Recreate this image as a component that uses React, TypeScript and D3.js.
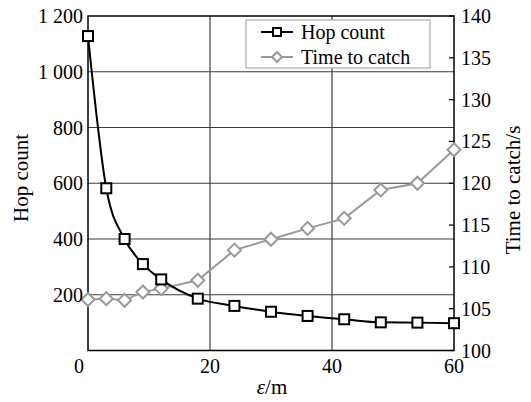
import React from "react";
import * as d3 from "d3";

const epsilon = [0, 3, 6, 9, 12, 18, 24, 30, 36, 42, 48, 54, 60];
const hopCount = [1128, 582, 400, 310, 255, 186, 160, 139, 124, 112, 101, 100, 98];
const timeToCatch = [106.1, 106.2, 106.0, 107.0, 107.4, 108.4, 112.0, 113.3, 114.6, 115.8, 119.2, 120.0, 124.0];
const xTicks = [0, 20, 40, 60];
const leftTicks = [200, 400, 600, 800, 1000, 1200];
const rightTicks = [100, 105, 110, 115, 120, 125, 130, 135, 140];
const seriesNames = ["Hop count", "Time to catch"];

const W = 531;
const H = 402;
const M = { left: 88, right: 454, top: 16, bottom: 350.5 };
const FONT = "Times New Roman";

const fmtLeft = (v: number) => (v >= 1000 ? `${Math.floor(v / 1000)} ${String(v % 1000).padStart(3, "0")}` : String(v));

export default function App() {
  const x = d3.scaleLinear().domain([0, 60]).range([M.left, M.right]);
  const yL = d3.scaleLinear().domain([0, 1200]).range([M.bottom, M.top]);
  const yR = d3.scaleLinear().domain([100, 140]).range([M.bottom, M.top]);

  const hopLine = d3
    .line<number>()
    .x((_, i) => x(epsilon[i]))
    .y((d) => yL(d))
    .curve(d3.curveMonotoneX)(hopCount) as string;
  const timeLine = d3
    .line<number>()
    .x((_, i) => x(epsilon[i]))
    .y((d) => yR(d))(timeToCatch) as string;

  const grid = "#3a3a3a";
  const gray = "#999999";
  const sq = 10;
  const dm = 6.5;
  const diamond = (cx: number, cy: number) =>
    `M${cx},${cy - dm}L${cx + dm},${cy}L${cx},${cy + dm}L${cx - dm},${cy}Z`;

  const lg = { x: 246, y: 20, w: 184, h: 48 };

  return (
    <svg
      width={W}
      height={H}
      fontFamily={FONT}
      style={{ position: "absolute", left: 0, top: 0, background: "#fff" }}
    >
      <rect x={0} y={0} width={W} height={H} fill="#fff" />
      {leftTicks
        .filter((t) => t < 1200)
        .map((t) => (
          <line key={"gh" + t} x1={M.left} x2={M.right} y1={yL(t)} y2={yL(t)} stroke={grid} strokeWidth={1.2} />
        ))}
      {xTicks
        .filter((t) => t > 0 && t < 60)
        .map((t) => (
          <line key={"gv" + t} x1={x(t)} x2={x(t)} y1={M.top} y2={M.bottom} stroke={grid} strokeWidth={1.2} />
        ))}
      {rightTicks.map((t) => (
        <line key={"rt" + t} x1={M.right - 5} x2={M.right} y1={yR(t)} y2={yR(t)} stroke="#000" strokeWidth={1.2} />
      ))}
      <rect x={M.left} y={M.top} width={M.right - M.left} height={M.bottom - M.top} fill="none" stroke="#000" strokeWidth={1.5} />

      <path d={timeLine} fill="none" stroke={gray} strokeWidth={2} />
      {timeToCatch.map((v, i) => (
        <path key={"tm" + i} d={diamond(x(epsilon[i]), yR(v))} fill="#fff" stroke={gray} strokeWidth={2} />
      ))}
      <path d={hopLine} fill="none" stroke="#000" strokeWidth={2} />
      {hopCount.map((v, i) => (
        <rect
          key={"hm" + i}
          x={x(epsilon[i]) - sq / 2}
          y={yL(v) - sq / 2}
          width={sq}
          height={sq}
          fill="#fff"
          stroke="#000"
          strokeWidth={2}
        />
      ))}

      {leftTicks.map((t) => (
        <text key={"lt" + t} x={M.left - 5} y={yL(t) + 7} textAnchor="end" fontSize={20}>
          {fmtLeft(t)}
        </text>
      ))}
      {rightTicks.map((t) => (
        <text key={"rl" + t} x={M.right + 7} y={yR(t) + 7} textAnchor="start" fontSize={20}>
          {t}
        </text>
      ))}
      {xTicks.map((t) => (
        <text key={"xt" + t} x={x(t) + (t === 0 ? -9 : 0)} y={373} textAnchor="middle" fontSize={20}>
          {t}
        </text>
      ))}

      <text x={272} y={394} textAnchor="middle" fontSize={21}>
        <tspan fontStyle="italic">ε</tspan>/m
      </text>
      <text transform={`translate(28,178) rotate(-90)`} textAnchor="middle" fontSize={21}>
        Hop count
      </text>
      <text transform={`translate(520,190) rotate(-90)`} textAnchor="middle" fontSize={21}>
        Time to catch/s
      </text>

      <rect x={lg.x} y={lg.y} width={lg.w} height={lg.h} fill="#fff" stroke="#aaa" strokeWidth={1.2} />
      <line x1={261} x2={293} y1={32} y2={32} stroke="#000" strokeWidth={2} />
      <rect x={277 - 4} y={32 - 4} width={8} height={8} fill="#fff" stroke="#000" strokeWidth={2} />
      <text x={301} y={38.5} fontSize={20}>
        {seriesNames[0]}
      </text>
      <line x1={261} x2={293} y1={57} y2={57} stroke={gray} strokeWidth={2} />
      <path d={`M277,${57 - 5}L282,57L277,${57 + 5}L272,57Z`} fill="#fff" stroke={gray} strokeWidth={2} />
      <text x={301} y={63.5} fontSize={20}>
        {seriesNames[1]}
      </text>
    </svg>
  );
}
